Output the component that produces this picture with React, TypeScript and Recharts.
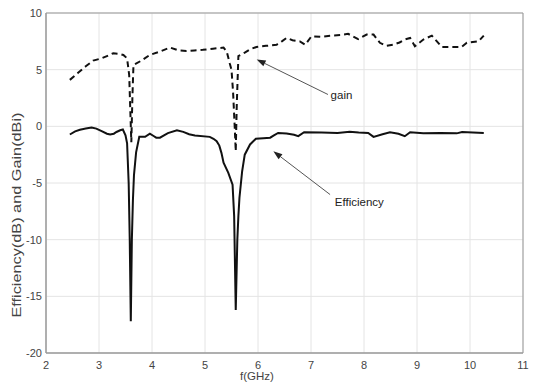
import React from 'react';
import { LineChart, Line, XAxis, YAxis, CartesianGrid, ReferenceArea, ReferenceLine, ReferenceDot } from 'recharts';

const gainFreq = [2.45, 2.6, 2.75, 2.89, 3.05, 3.15, 3.27, 3.38, 3.46, 3.53, 3.57, 3.59, 3.61, 3.63, 3.65, 3.8, 3.96, 4.15, 4.34, 4.5, 4.65, 4.8, 4.96, 5.15, 5.35, 5.41, 5.47, 5.5, 5.53, 5.56, 5.58, 5.6, 5.63, 5.75, 5.85, 5.97, 6.15, 6.35, 6.45, 6.54, 6.65, 6.79, 6.89, 7.01, 7.2, 7.36, 7.55, 7.7, 7.89, 8.05, 8.18, 8.3, 8.42, 8.55, 8.67, 8.77, 8.87, 8.96, 9.12, 9.28, 9.47, 9.68, 9.84, 9.94, 10.16, 10.26];
const gainValues = [4.1, 4.7, 5.3, 5.8, 6.0, 6.2, 6.45, 6.4, 6.3, 6.0, 4.5, 1.5, -1.4, 2.5, 5.4, 5.8, 6.3, 6.6, 6.95, 6.7, 6.65, 6.7, 6.75, 6.85, 6.95, 6.6, 5.5, 5.0, 3.0, 0.0, -2.2, 2.0, 6.2, 6.5, 6.8, 7.0, 7.1, 7.2, 7.5, 7.8, 7.6, 7.5, 7.2, 7.95, 7.9, 8.0, 8.05, 8.16, 7.7, 8.1, 8.1, 7.37, 7.1, 7.2, 7.4, 7.66, 7.8, 7.07, 7.66, 8.0, 7.0, 7.0, 7.0, 7.37, 7.5, 8.0];

const effFreq = [2.45, 2.55, 2.64, 2.75, 2.86, 2.95, 3.05, 3.15, 3.21, 3.28, 3.33, 3.4, 3.45, 3.5, 3.53, 3.56, 3.58, 3.6, 3.62, 3.64, 3.66, 3.7, 3.76, 3.87, 3.96, 4.03, 4.08, 4.15, 4.3, 4.47, 4.59, 4.7, 4.81, 5.09, 5.16, 5.22, 5.27, 5.31, 5.35, 5.44, 5.52, 5.55, 5.58, 5.61, 5.63, 5.65, 5.7, 5.75, 5.85, 5.96, 6.1, 6.23, 6.3, 6.38, 6.54, 6.68, 6.76, 6.87, 7.2, 7.5, 7.73, 7.9, 8.08, 8.18, 8.35, 8.49, 8.65, 8.77, 8.87, 9.12, 9.44, 9.75, 9.85, 10.26];
const effValues = [-0.72, -0.45, -0.3, -0.2, -0.1, -0.2, -0.43, -0.65, -0.72, -0.65, -0.5, -0.35, -0.28, -0.8, -1.5, -5, -10, -17.2, -10, -6.5, -4.3, -2.3, -0.93, -0.93, -0.64, -0.85, -1.0, -1.0, -0.6, -0.34, -0.49, -0.7, -0.81, -0.93, -1.1, -1.31, -1.7, -2.34, -3.2, -4.1, -5.14, -7.9, -16.2, -10, -7.9, -6.3, -4.0, -2.5, -1.6, -1.1, -1.05, -1.0, -0.8, -0.58, -0.64, -0.75, -0.87, -0.52, -0.55, -0.58, -0.48, -0.55, -0.58, -0.93, -0.7, -0.52, -0.65, -0.87, -0.52, -0.62, -0.58, -0.62, -0.5, -0.58];

const xTicks = [2, 3, 4, 5, 6, 7, 8, 9, 10, 11];
const yTicks = [-20, -15, -10, -5, 0, 5, 10];

const gainNote = { tipX: 5.975, tipY: 5.9, tailX: 7.32, tailY: 2.81, textX: 7.37, textY: 2.7, text: 'gain' };
const effNote = { tipX: 6.29, tipY: -2.2, tailX: 7.36, tailY: -6.02, textX: 7.45, textY: -6.75, text: 'Efficiency' };

const gainData = gainFreq.map((f, i) => ({ f, v: gainValues[i] }));
const effData = effFreq.map((f, i) => ({ f, v: effValues[i] }));

const FONT = '"Liberation Sans", Arial, sans-serif';

const ArrowShape = (props: any) => {
  const { x1, y1, x2, y2 } = props;
  if ([x1, y1, x2, y2].some((v) => typeof v !== 'number' || isNaN(v))) return null;
  const dx = x2 - x1;
  const dy = y2 - y1;
  const len = Math.sqrt(dx * dx + dy * dy) || 1;
  const ux = dx / len;
  const uy = dy / len;
  const L = 9;
  const W = 3.2;
  const bx = x1 + ux * L;
  const by = y1 + uy * L;
  const p1 = `${x1},${y1}`;
  const p2 = `${bx - uy * W},${by + ux * W}`;
  const p3 = `${bx + uy * W},${by - ux * W}`;
  return (
    <g>
      <line x1={bx} y1={by} x2={x2} y2={y2} stroke="#555" strokeWidth={1} />
      <polygon points={`${p1} ${p2} ${p3}`} fill="#222" />
    </g>
  );
};

const makeTextShape = (label: string) => (props: any) => {
  const { cx, cy } = props;
  return (
    <text x={cx} y={cy} dominantBaseline="middle" fontSize={11.5} fontFamily={FONT} fill="#222">
      {label}
    </text>
  );
};

const YTick = (props: any) => {
  const { x, y, payload } = props;
  return (
    <text x={x + 4} y={y} dy={4} textAnchor="end" fontSize={11} fontFamily={FONT} fill="#444">
      {String(payload.value)}
    </text>
  );
};

export default function App() {
  return (
    <div style={{ position: 'absolute', left: 0, top: 0, background: '#fff' }}>
      <LineChart width={533} height={383} margin={{ top: 13, right: 10, bottom: 5, left: 10 }}>
        <CartesianGrid stroke="#e4e4e4" strokeWidth={1} />
        <XAxis
          type="number"
          dataKey="f"
          domain={[2, 11]}
          ticks={xTicks}
          allowDuplicatedCategory={false}
          height={25}
          tickLine={false}
          axisLine={{ stroke: '#999' }}
          tick={{ fontSize: 11, fill: '#444', fontFamily: FONT }}
          tickMargin={2}
          interval={0}
        />
        <YAxis
          type="number"
          domain={[-20, 10]}
          ticks={yTicks}
          width={36}
          tickLine={false}
          axisLine={{ stroke: '#999' }}
          tick={YTick}
          interval={0}
        />
        <ReferenceArea x1={2} x2={11} y1={-20} y2={10} fill="none" stroke="#999" strokeWidth={1} ifOverflow="extendDomain" />
        <Line data={gainData} dataKey="v" type="linear" stroke="#111" strokeWidth={2} strokeDasharray="6 4" dot={false} isAnimationActive={false} />
        <Line data={effData} dataKey="v" type="linear" stroke="#111" strokeWidth={2} dot={false} isAnimationActive={false} />
        <ReferenceLine
          segment={[{ x: gainNote.tipX, y: gainNote.tipY }, { x: gainNote.tailX, y: gainNote.tailY }]}
          shape={ArrowShape}
          ifOverflow="visible"
        />
        <ReferenceLine
          segment={[{ x: effNote.tipX, y: effNote.tipY }, { x: effNote.tailX, y: effNote.tailY }]}
          shape={ArrowShape}
          ifOverflow="visible"
        />
        <ReferenceDot x={gainNote.textX} y={gainNote.textY} r={0} shape={makeTextShape(gainNote.text)} />
        <ReferenceDot x={effNote.textX} y={effNote.textY} r={0} shape={makeTextShape(effNote.text)} />
        <text x={257} y={380} textAnchor="middle" fontSize={11.5} fontFamily={FONT} fill="#444">
          f(GHz)
        </text>
        <text
          x={21}
          y={215}
          transform="rotate(-90 21 215)"
          textAnchor="middle"
          fontSize={12}
          fontFamily={FONT}
          fill="#444"
          textLength={205}
          lengthAdjust="spacingAndGlyphs"
        >
          Efficiency(dB) and Gain(dBi)
        </text>
      </LineChart>
    </div>
  );
}
